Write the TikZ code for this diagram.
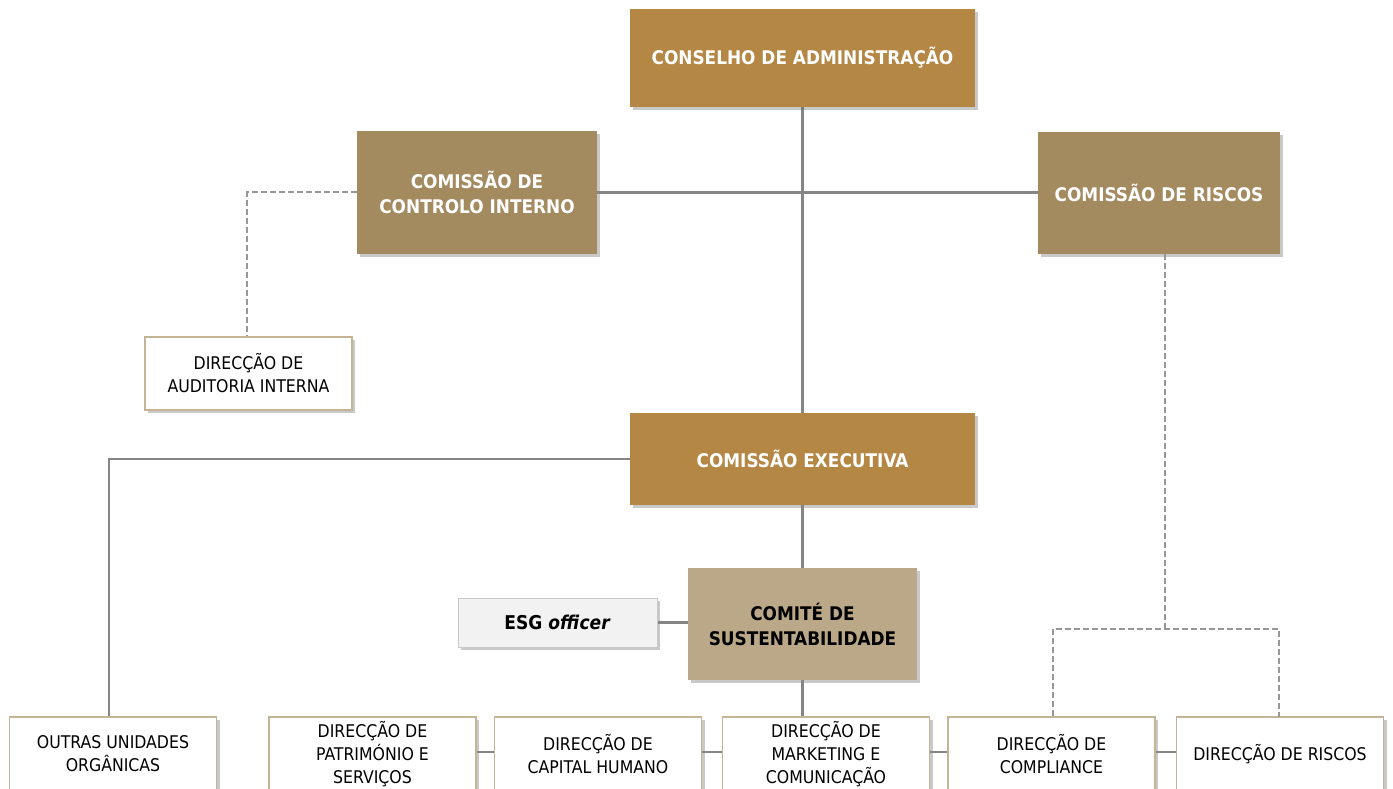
\documentclass[tikz,border=0pt]{standalone}
\usepackage{fontspec}
\setmainfont{DejaVu Sans Condensed}
\usetikzlibrary{shadows}
\definecolor{gold}{HTML}{B58745}
\definecolor{bronze}{HTML}{A38A5F}
\definecolor{sand}{HTML}{BBA888}
\definecolor{tanline}{HTML}{C4B496}
\definecolor{esgfill}{HTML}{F2F2F2}
\definecolor{esgline}{HTML}{C8C8C8}
\definecolor{conn}{HTML}{858585}
\definecolor{dconn}{HTML}{979797}
\tikzset{
  shad/.style={drop shadow={shadow xshift=3pt,shadow yshift=-3pt,opacity=0.35,fill=black!60}},
  colbox/.style={rectangle,draw=none,inner sep=0pt,align=center,text=white,
    font=\bfseries\fontsize{18.8}{25}\selectfont,shad},
  whitebox/.style={rectangle,draw=tanline,line width=1.2pt,fill=white,inner sep=0pt,
    align=center,minimum width=207pt,font=\fontsize{17.5}{23}\selectfont,shad},
  botbox/.style={whitebox,minimum height=74pt},
  solidcon/.style={draw=conn,line width=2.2pt},
  dashcon/.style={draw=dconn,line width=2pt,dash pattern=on 6pt off 3pt},
}
\begin{document}
\begin{tikzpicture}[x=1pt,y=-1pt]
\useasboundingbox (0,0) rectangle (1393,789);
\clip (0,0) rectangle (1393,789);
\fill[white] (0,0) rectangle (1393,789);
% connectors first (behind boxes)
\coordinate (ca0) at (802.5,58);
\coordinate (ce0) at (802.5,459);
\draw[solidcon] (ca0) -- (ce0);
% boxes
\node[colbox,fill=gold,minimum width=345pt,minimum height=98pt] (ca) at (802.5,58) {CONSELHO DE ADMINISTRAÇÃO};
\node[colbox,fill=bronze,minimum width=240pt,minimum height=123pt] (cci) at (477,192.5) {COMISSÃO DE\\CONTROLO INTERNO};
\node[colbox,fill=bronze,minimum width=242pt,minimum height=122pt] (cr) at (1159,193) {COMISSÃO DE RISCOS};
\node[whitebox,minimum height=73pt] (dai) at (248.5,373.5) {DIRECÇÃO DE\\AUDITORIA INTERNA};
\node[colbox,fill=gold,minimum width=345pt,minimum height=92pt] (ce) at (802.5,459) {COMISSÃO EXECUTIVA};
\node[colbox,fill=sand,text=black,minimum width=229pt,minimum height=112pt] (cs) at (802.5,624) {COMITÉ DE\\SUSTENTABILIDADE};
\node[rectangle,draw=esgline,line width=1pt,fill=esgfill,minimum width=199pt,minimum height=49pt,inner sep=0pt,font=\bfseries\fontsize{19}{24}\selectfont,shad] (esg) at (557.5,622.5) {ESG \textit{officer}};
\node[botbox] (ou) at (113,754) {OUTRAS UNIDADES\\ORGÂNICAS};
\node[botbox] (dp) at (372.5,754) {DIRECÇÃO DE\\PATRIMÓNIO E\\SERVIÇOS};
\node[botbox] (dch) at (598,754) {DIRECÇÃO DE\\CAPITAL HUMANO};
\node[botbox] (dm) at (826,754) {DIRECÇÃO DE\\MARKETING E\\COMUNICAÇÃO};
\node[botbox] (dc) at (1051.5,754) {DIRECÇÃO DE\\COMPLIANCE};
\node[botbox] (dr) at (1280,754) {DIRECÇÃO DE RISCOS};
% solid connectors
\draw[solidcon] (cci.east) -- (cci.east -| cr.west);
\draw[solidcon] (ce.west) -- (109,459) coordinate (k1) -- (k1 |- ou.north);
\draw[solidcon] (ce.south) -- (cs.north);
\draw[solidcon] (cs.south) -- (cs.south |- dm.north);
\draw[solidcon] (esg.east) -- (esg.east -| cs.west);
\draw[solidcon] ([yshift=2pt]dp.east) -- ([yshift=2pt]dp.east -| dch.west);
\draw[solidcon] ([yshift=2pt]dch.east) -- ([yshift=2pt]dch.east -| dm.west);
\draw[solidcon] ([yshift=2pt]dm.east) -- ([yshift=2pt]dm.east -| dc.west);
\draw[solidcon] ([yshift=2pt]dc.east) -- ([yshift=2pt]dc.east -| dr.west);
% dashed connectors
\draw[dashcon] (cci.west) -- (247,192.5) coordinate (k2) -- (k2 |- dai.north);
\coordinate (k3) at (1165,629);
\draw[dashcon] (cr.south -| k3) -- (k3);
\draw[dashcon] (dc.north -| 1053,0) -- (1053,629) -- (1279,629) -- (1279,717);
\end{tikzpicture}
\end{document}
